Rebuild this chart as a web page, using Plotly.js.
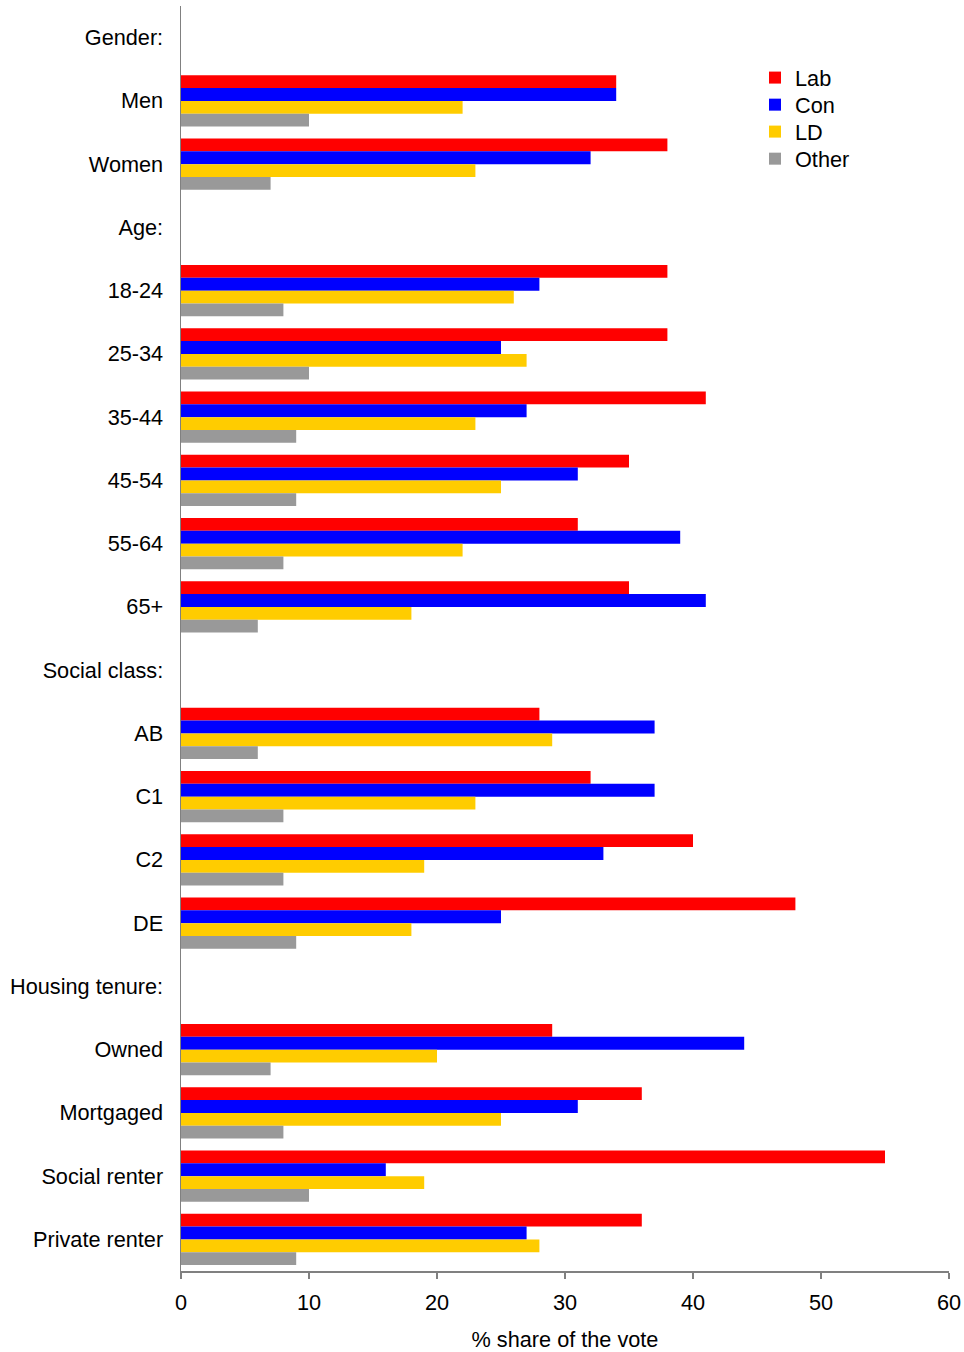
<!DOCTYPE html>
<html>
<head>
<meta charset="utf-8">
<script src="https://cdn.plot.ly/plotly-3.0.1.min.js"></script>
<style>html,body{margin:0;padding:0;background:#fff;}#chart{width:964px;height:1352px;}</style>
</head>
<body>
<div id="chart"></div>
<script>
const categories = ["Gender:", "Men", "Women", "Age:", "18-24", "25-34", "35-44", "45-54", "55-64", "65+",
  "Social class:", "AB", "C1", "C2", "DE", "Housing tenure:", "Owned", "Mortgaged", "Social renter", "Private renter"];
const lab   = [null, 34, 38, null, 38, 38, 41, 35, 31, 35, null, 28, 32, 40, 48, null, 29, 36, 55, 36];
const con   = [null, 34, 32, null, 28, 25, 27, 31, 39, 41, null, 37, 37, 33, 25, null, 44, 31, 16, 27];
const ld    = [null, 22, 23, null, 26, 27, 23, 25, 22, 18, null, 29, 23, 19, 18, null, 20, 25, 19, 28];
const other = [null, 10, 7, null, 8, 10, 9, 9, 8, 6, null, 6, 8, 8, 9, null, 7, 8, 10, 9];
const seriesNames = ["Lab", "Con", "LD", "Other"];
const seriesColors = ["#FF0000", "#0000FF", "#FFCC00", "#999999"];
const xTickVals = [0, 10, 20, 30, 40, 50, 60];
const xTitle = "% share of the vote";

const font = "Arial, 'Liberation Sans', sans-serif";
const values = [lab, con, ld, other];
const legendIds = ["legend", "legend2", "legend3", "legend4"];
const legendY = [0.9431, 0.9217, 0.9004, 0.8790];
const traces = values.map((v, i) => ({
  type: "bar", orientation: "h", name: seriesNames[i],
  y: categories, x: v, legend: legendIds[i],
  marker: {color: seriesColors[i], line: {width: 0}},
  hoverinfo: "x+y"
}));

const layout = {
  width: 964, height: 1352,
  margin: {l: 181, r: 15, t: 6, b: 81, pad: 0},
  paper_bgcolor: "#fff", plot_bgcolor: "#fff",
  font: {family: font, size: 21.7, color: "#000"},
  barmode: "group", bargap: 0.19, bargroupgap: 0,
  showlegend: true,
  xaxis: {
    range: [0, 60], tickvals: xTickVals, showgrid: false, zeroline: false,
    showline: true, linecolor: "#808080", linewidth: 1.5,
    ticks: "outside", ticklen: 6, tickcolor: "#808080", tickwidth: 1.5,
    ticklabelstandoff: 5,
    tickfont: {family: font, size: 21.7, color: "#000"},
    title: {text: xTitle, font: {family: font, size: 21.7, color: "#000"}, standoff: 19}
  },
  yaxis: {
    type: "category", categoryorder: "array", categoryarray: categories,
    autorange: "reversed", showgrid: false, zeroline: false,
    showline: true, linecolor: "#808080", linewidth: 1.5,
    ticks: "", ticklabelstandoff: 12,
    tickfont: {family: font, size: 21.7, color: "#000"}
  }
};
legendIds.forEach((id, i) => {
  layout[id] = {x: 0.7474, y: legendY[i], xanchor: "left", yanchor: "middle",
    bgcolor: "rgba(0,0,0,0)", borderwidth: 0, itemwidth: 30,
    font: {family: font, size: 21.7, color: "#000"}};
});

Plotly.newPlot("chart", traces, layout, {displayModeBar: false, staticPlot: true});
</script>
</body>
</html>
